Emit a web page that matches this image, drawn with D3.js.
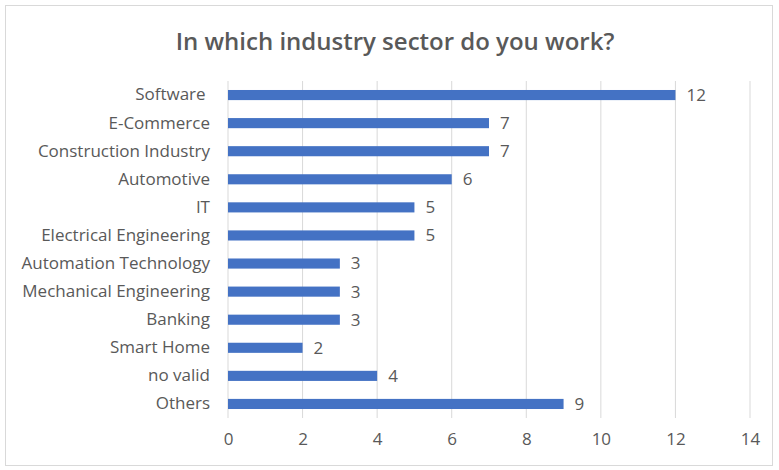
<!DOCTYPE html>
<html>
<head>
<meta charset="utf-8">
<script src="https://cdn.jsdelivr.net/npm/d3@7"></script>
<style>
  body { margin: 0; background: #fff; }
  text { font-family: "Open Sans", "Noto Sans", sans-serif; fill: #595959; }
</style>
</head>
<body>
<div id="chart"></div>
<script>
// data
var sectors = ["Software ", "E-Commerce", "Construction Industry", "Automotive", "IT",
  "Electrical Engineering", "Automation Technology", "Mechanical Engineering",
  "Banking", "Smart Home", "no valid", "Others"];
var counts = [12, 7, 7, 6, 5, 5, 3, 3, 3, 2, 4, 9];
var xTicks = [0, 2, 4, 6, 8, 10, 12, 14];

var svgWidth = 779;
var svgHeight = 470;

var margin = {top: 81, right: 29, bottom: 52, left: 228};
var chartWidth = svgWidth - margin.left - margin.right;
var chartHeight = svgHeight - margin.top - margin.bottom;

var svg = d3.select("#chart").append("svg")
  .attr("width", svgWidth)
  .attr("height", svgHeight);

// outer border
svg.append("rect")
  .attr("x", 5.5).attr("y", 5.5)
  .attr("width", 767).attr("height", 460)
  .attr("fill", "#fff")
  .attr("stroke", "#d9d9d9");

// title
svg.append("text")
  .attr("x", 395)
  .attr("y", 50)
  .attr("text-anchor", "middle")
  .style("font-size", "24px")
  .style("font-weight", "600")
  .text("In which industry sector do you work?");

var chartGroup = svg.append("g")
  .attr("transform", `translate(${margin.left}, ${margin.top})`);

var xScale = d3.scaleLinear().domain([0, 14]).range([0, 522]);
var yScale = d3.scaleBand().domain(sectors).range([0, chartHeight]).paddingInner(0.64).paddingOuter(0.32);

// gridlines
chartGroup.append("g").selectAll("line")
  .data(xTicks.slice(1))
  .enter().append("line")
  .attr("x1", d => xScale(d)).attr("x2", d => xScale(d))
  .attr("y1", 0).attr("y2", chartHeight)
  .attr("stroke", "#d9d9d9");

// x axis labels
var xAxis = d3.axisBottom(xScale).tickValues(xTicks).tickSize(0).tickPadding(15);
var xg = chartGroup.append("g")
  .attr("transform", `translate(0, ${chartHeight})`)
  .call(xAxis);
xg.attr("font-family", null);
xg.select(".domain").remove();
xg.selectAll("text").style("font-size", "17px").style("fill", "#595959");

// y axis
var yAxis = d3.axisLeft(yScale).tickSize(0).tickPadding(18);
var yg = chartGroup.append("g").call(yAxis);
yg.attr("font-family", null);
yg.select(".domain").remove();
yg.selectAll("text")
  .style("font-size", "17px")
  .style("white-space", "pre")
  .style("fill", "#595959");

chartGroup.append("line")
  .attr("x1", 0).attr("x2", 0)
  .attr("y1", 0).attr("y2", chartHeight)
  .attr("stroke", "#d9d9d9");

// bars
chartGroup.append("g").selectAll("rect")
  .data(counts)
  .enter().append("rect")
  .attr("x", 0)
  .attr("y", (d, i) => yScale(sectors[i]))
  .attr("width", d => xScale(d))
  .attr("height", yScale.bandwidth())
  .attr("fill", "#4472c4");

// value labels
chartGroup.append("g").selectAll("text")
  .data(counts)
  .enter().append("text")
  .attr("x", d => xScale(d) + 11)
  .attr("y", (d, i) => yScale(sectors[i]) + yScale.bandwidth() / 2)
  .attr("dy", "0.35em")
  .style("font-size", "17px")
  .text(d => d);
</script>
</body>
</html>
